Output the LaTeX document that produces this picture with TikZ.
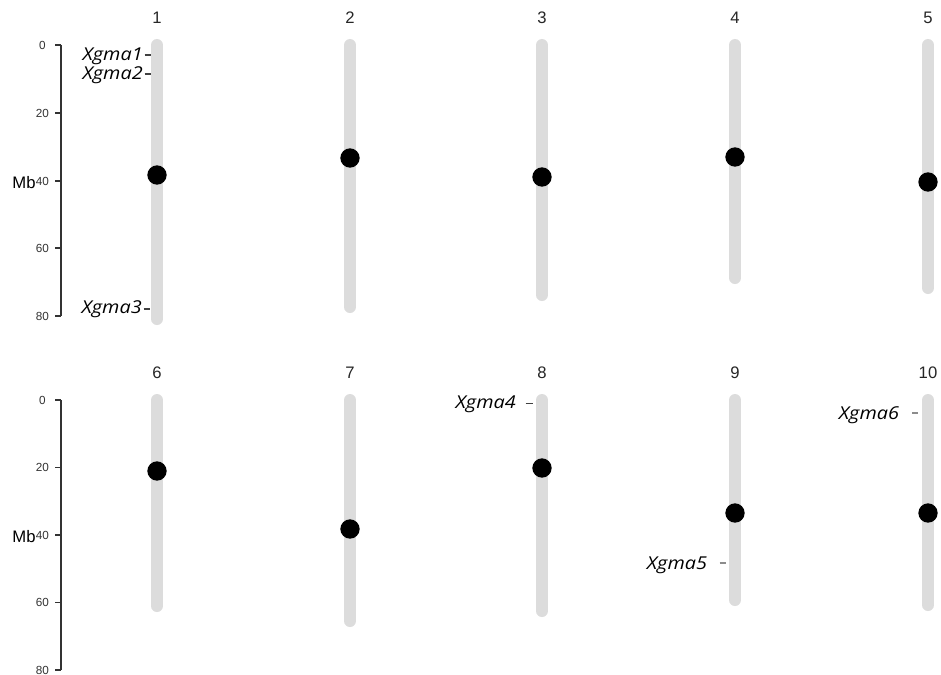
\documentclass[tikz,border=0pt]{standalone}
\usepackage{fontspec}
\setmainfont{Liberation Sans}
\newfontfamily\genefont[FakeStretch=1.12]{Open Sans}
\definecolor{chrgray}{HTML}{DCDCDC}
\definecolor{axisgray}{HTML}{333333}
\begin{document}
\begin{tikzpicture}[x=0.75pt,y=-0.75pt,
  chrom/.style={line width=9pt,line cap=round,draw=chrgray},
  centro/.style={circle,fill=black,inner sep=0pt,minimum size=14.5pt},
  chrlabel/.style={font=\fontsize{12.5pt}{14pt}\selectfont,text=black!85},
  ticklabel/.style={font=\fontsize{8.8pt}{10pt}\selectfont,text=axisgray},
  mblabel/.style={font=\fontsize{12.5pt}{14pt}\selectfont},
  axisline/.style={draw=axisgray,line width=0.9pt},
  genelabel/.style={font=\genefont\itshape\fontsize{13.3pt}{15pt}\selectfont,anchor=base east,inner sep=0pt},
  genedash/.style={draw=black!75,line width=0.8pt},
  genedashg/.style={draw=black!45,line width=0.8pt}]
\useasboundingbox[fill=white] (0,0) rectangle (941,674);

% ---------- top axis ----------
\coordinate (ta0) at (61,45);
\coordinate (ta80) at (61,316);
\draw[axisline] (ta0) -- (ta80);
\foreach \v/\y in {0/45,20/113,40/181,60/248,80/316}{
  \draw[axisline] (55,\y) -- (61,\y);
  \node[ticklabel] (tl\v) at (42.5,\y) {\v};
}
\node[mblabel] (mbtop) at (24,183) {Mb};

% ---------- bottom axis ----------
\coordinate (ba0) at (61,400);
\coordinate (ba80) at (61,670);
\draw[axisline] (ba0) -- (ba80);
\foreach \v/\y in {0/400,20/467.5,40/535,60/602.5,80/670}{
  \draw[axisline] (55,\y) -- (61,\y);
  \node[ticklabel] (bl\v) at (42.5,\y) {\v};
}
\node[mblabel] (mbbot) at (24,537) {Mb};

% ---------- chromosomes ----------
\foreach \n/\x/\top/\bot/\c/\ly in {
  1/157/45/319/175/18, 2/350/45/307/158/18, 3/542/45/295/177/18,
  4/735/45/278/157/18, 5/928/45/288/182/18,
  6/157/400/606/471/373, 7/350/400/621/529/373, 8/542/400/611/468/373,
  9/735/400/600/513/373, 10/928/400/605/513/373}{
  \coordinate (c\n top) at (\x,\top);
  \coordinate (c\n bot) at (\x,\bot);
  \draw[chrom] (c\n top) -- (c\n bot);
  \node[centro] (cen\n) at (\x,\c) {};
  \node[chrlabel] (lab\n) at (\x,\ly) {\n};
}

% ---------- genes ----------
\node[genelabel] (g1) at (143,60.5) {Xgma1};
\coordinate (d1a) at (144.5,55);
\coordinate (d1b) at (150.5,55);
\draw[genedash] (d1a) -- (d1b);
\node[genelabel] (g2) at (143,79.5) {Xgma2};
\coordinate (d2a) at (144.5,74);
\coordinate (d2b) at (150.5,74);
\draw[genedash] (d2a) -- (d2b);
\node[genelabel] (g3) at (142,313.3) {Xgma3};
\coordinate (d3a) at (143.5,309);
\coordinate (d3b) at (150,309);
\draw[genedash] (d3a) -- (d3b);

\node[genelabel] (g4) at (516,408.3) {Xgma4};
\coordinate (d4a) at (525.5,403.5);
\coordinate (d4b) at (532.5,403.5);
\draw[genedash] (d4a) -- (d4b);
\node[genelabel] (g5) at (707.3,569) {Xgma5};
\coordinate (d5a) at (719.5,563);
\coordinate (d5b) at (725.5,563);
\draw[genedashg] (d5a) -- (d5b);
\node[genelabel] (g6) at (899.3,419) {Xgma6};
\coordinate (d6a) at (912,413);
\coordinate (d6b) at (918,413);
\draw[genedashg] (d6a) -- (d6b);
\end{tikzpicture}
\end{document}
